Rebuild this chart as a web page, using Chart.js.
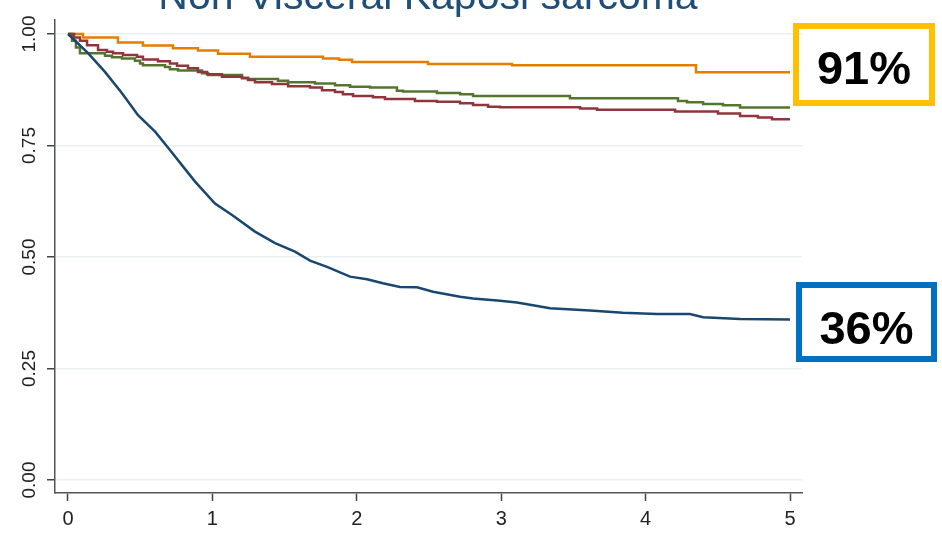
<!DOCTYPE html>
<html>
<head>
<meta charset="utf-8">
<script src="https://cdn.jsdelivr.net/npm/chart.js@4.4.1/dist/chart.umd.min.js"></script>
<style>
html,body{margin:0;background:#fff}
#wrap{width:942px;height:534px;position:relative}
</style>
</head>
<body>
<div id="wrap"><canvas id="km" width="942" height="534"></canvas></div>
<script>
// ── data ─────────────────────────────────────────
const TITLE='Non-Visceral Kaposi sarcoma';
const xTicks=[0,1,2,3,4,5];
const yTicks=[0,0.25,0.5,0.75,1];

// years since diagnosis / survival probability
const navyT=[0,0.139,0.256,0.374,0.485,0.603,0.706,0.789,0.880,1.018,1.136,1.295,1.434,1.572,1.676,1.794,1.953,2.071,2.181,2.299,2.417,2.528,2.715,2.805,2.992,3.109,3.220,3.338,3.615,3.843,4.079,4.307,4.398,4.654,5.000];
const navyS=[1.000,0.957,0.915,0.867,0.818,0.781,0.740,0.706,0.669,0.620,0.594,0.557,0.531,0.512,0.492,0.478,0.456,0.450,0.441,0.433,0.432,0.422,0.411,0.407,0.402,0.398,0.392,0.385,0.380,0.375,0.372,0.372,0.365,0.361,0.360];

const maroonT=[0,0.042,0.083,0.132,0.208,0.270,0.312,0.381,0.478,0.519,0.623,0.706,0.755,0.831,0.900,0.963,1.066,1.205,1.247,1.295,1.413,1.524,1.676,1.759,1.849,1.904,1.974,2.112,2.195,2.403,2.555,2.715,2.805,2.909,2.992,3.546,3.664,4.204,4.501,4.654,4.778,4.875,5.000];
const maroonS=[1.000,0.992,0.985,0.975,0.964,0.960,0.957,0.953,0.949,0.943,0.939,0.934,0.929,0.923,0.915,0.910,0.904,0.901,0.897,0.892,0.888,0.883,0.880,0.874,0.870,0.865,0.861,0.858,0.854,0.850,0.848,0.845,0.841,0.837,0.836,0.833,0.830,0.826,0.822,0.816,0.813,0.809,0.809];

const greenT=[0,0.028,0.055,0.083,0.256,0.305,0.374,0.464,0.499,0.519,0.672,0.706,0.762,0.928,0.970,1.205,1.247,1.454,1.524,1.710,1.849,1.953,2.091,2.278,2.320,2.555,2.715,2.805,3.476,4.224,4.287,4.398,4.536,4.654,5.000];
const greenS=[1.000,0.985,0.970,0.957,0.951,0.948,0.945,0.940,0.934,0.930,0.926,0.921,0.918,0.912,0.908,0.902,0.899,0.895,0.892,0.889,0.885,0.882,0.880,0.873,0.871,0.868,0.865,0.861,0.856,0.850,0.847,0.843,0.840,0.835,0.835];

const orangeT=[0,0.104,0.346,0.519,0.727,0.900,1.039,1.260,1.766,1.877,1.967,2.493,3.075,4.349,5.000];
const orangeS=[1.000,0.992,0.981,0.974,0.968,0.963,0.956,0.949,0.945,0.942,0.937,0.933,0.930,0.914,0.914];

// ── chart ────────────────────────────────────────
const FONT='"Liberation Sans", Arial, Helvetica, sans-serif';
Chart.defaults.font.family=FONT;

const series=[
  {t:navyT,  s:navyS,  color:'#1a476f', stepped:false},
  {t:maroonT,s:maroonS,color:'#90353b', stepped:true},
  {t:greenT, s:greenS, color:'#55752f', stepped:true},
  {t:orangeT,s:orangeS,color:'#e37e00', stepped:true},
];

// boxed end-of-follow-up percentages
const boxes=[
  {src:orangeS, color:'#ffc000', x:793, y:23, w:142, h:83, base:84},
  {src:navyS,   color:'#0070c0', x:796, y:282, w:141, h:80, base:344},
];

const titlePlug={id:'titlePlug',afterDraw(c){
  const ctx=c.ctx;
  ctx.save();
  ctx.font='41px '+FONT;ctx.fillStyle='#1f4e79';ctx.textAlign='center';ctx.textBaseline='alphabetic';
  ctx.fillText(TITLE,428,9);
  ctx.restore();
}};

const yLabels={id:'yLabels',afterDraw(c){
  const s=c.scales.y,ctx=c.ctx;
  ctx.save();
  ctx.font='19px '+FONT;ctx.fillStyle='#222';ctx.textAlign='center';ctx.textBaseline='middle';
  yTicks.forEach(v=>{
    ctx.save();ctx.translate(30,s.getPixelForValue(v));ctx.rotate(-Math.PI/2);
    ctx.fillText(v.toFixed(2),0,0);ctx.restore();
  });
  ctx.restore();
}};

const endBoxes={id:'endBoxes',afterDraw(c){
  const ctx=c.ctx;
  ctx.save();
  boxes.forEach(b=>{
    ctx.lineWidth=6;ctx.strokeStyle=b.color;
    ctx.strokeRect(b.x+3,b.y+3,b.w-6,b.h-6);
    ctx.font='bold 47px '+FONT;ctx.fillStyle='#000';ctx.textAlign='center';ctx.textBaseline='alphabetic';
    ctx.fillText(Math.round(b.src[b.src.length-1]*100)+'%',b.x+b.w/2,b.base);
  });
  ctx.restore();
}};

new Chart(document.getElementById('km'),{
  type:'line',
  data:{datasets:series.map(d=>({
    data:d.t.map((t,i)=>({x:t,y:d.s[i]})),
    borderColor:d.color,borderWidth:2.5,pointRadius:0,tension:0,stepped:d.stepped,fill:false
  }))},
  options:{
    responsive:false,animation:false,
    layout:{padding:{top:20,right:140,left:0,bottom:0}},
    plugins:{legend:{display:false},tooltip:{enabled:false},title:{display:false}},
    scales:{
      x:{type:'linear',min:-0.09,max:5.083,
        afterBuildTicks:s=>{s.ticks=xTicks.map(v=>({value:v}))},
        afterFit:s=>{s.height=41},
        grid:{drawOnChartArea:false,drawTicks:true,tickLength:8,tickColor:'#444',tickWidth:1.5},
        border:{color:'#555',width:1.5},
        ticks:{font:{size:20},color:'#222',padding:6,maxRotation:0,autoSkip:false,callback:v=>String(v)}},
      y:{type:'linear',min:-0.0291,max:1.0314,
        afterBuildTicks:s=>{s.ticks=yTicks.map(v=>({value:v}))},
        afterFit:s=>{s.width=55},
        grid:{color:'#e9f0f2',lineWidth:1.5,drawTicks:true,tickLength:8,tickColor:'#444',tickWidth:1.5},
        border:{color:'#555',width:1.5},
        ticks:{display:false}}
    }
  },
  plugins:[titlePlug,yLabels,endBoxes]
});
</script>
</body>
</html>
